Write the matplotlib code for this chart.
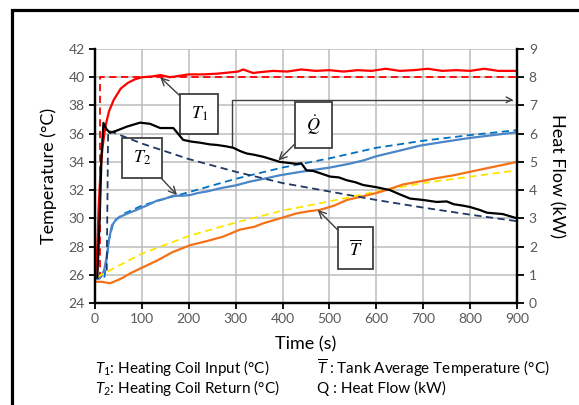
import matplotlib
matplotlib.use('Agg')
import matplotlib.pyplot as plt
from matplotlib.patches import Rectangle

plt.rcParams['font.family'] = ['Lato', 'DejaVu Sans']
plt.rcParams['mathtext.fontset'] = 'custom'
plt.rcParams['mathtext.it'] = 'Lato:italic'
plt.rcParams['mathtext.rm'] = 'Lato'

t_T1 = [0, 5, 8, 12, 16, 22, 30, 40, 55, 70, 85, 100, 120, 140, 160, 180, 200, 230, 260, 290,
        305, 316, 337, 350, 380, 410, 440, 470, 500, 530, 560, 590, 620, 650, 680, 710, 740,
        770, 800, 830, 860, 900]
T1 = [25.7, 28.0, 31.0, 33.5, 35.0, 36.5, 37.6, 38.4, 39.2, 39.6, 39.85, 40.0, 40.05, 40.15,
      40.0, 40.1, 40.2, 40.2, 40.25, 40.35, 40.4, 40.55, 40.3, 40.35, 40.45, 40.4, 40.55, 40.45,
      40.5, 40.4, 40.5, 40.45, 40.6, 40.45, 40.5, 40.6, 40.45, 40.5, 40.45, 40.6, 40.45, 40.45]

t_T1_model = [10, 10, 900]
T1_model = [25.7, 40.0, 40.0]

t_T2 = [0, 8, 14, 20, 25, 30, 36, 45, 53, 70, 89, 110, 132, 150, 166, 185, 203, 220, 238,
        270, 302, 330, 360, 394, 430, 460, 501, 540, 572, 600, 650, 693, 740, 800, 850, 900]
T2 = [25.7, 25.7, 25.9, 26.4, 27.3, 28.5, 29.5, 29.9, 30.1, 30.35, 30.6, 30.9, 31.25, 31.4,
      31.6, 31.6, 31.65, 31.8, 31.9, 32.15, 32.35, 32.6, 32.8, 33.05, 33.25, 33.4, 33.6, 33.85,
      34.1, 34.4, 34.8, 35.15, 35.4, 35.7, 35.9, 36.1]

t_T2_model = [20, 30, 40, 60, 100, 150, 200, 300, 400, 500, 600, 700, 800, 900]
T2_model = [25.8, 28.5, 29.8, 30.3, 30.9, 31.4, 31.85, 32.8, 33.6, 34.25, 35.0, 35.5, 35.9, 36.25]

t_Tavg = [0, 15, 32, 47, 60, 75, 100, 132, 165, 203, 240, 273, 309, 340, 359, 395, 430, 455,
          480, 510, 537, 570, 601, 630, 657, 690, 729, 765, 800, 850, 900]
Tavg = [25.5, 25.5, 25.4, 25.6, 25.8, 26.1, 26.5, 27.0, 27.6, 28.1, 28.4, 28.7, 29.2, 29.4,
        29.65, 30.0, 30.35, 30.5, 30.6, 30.9, 31.3, 31.55, 31.8, 32.1, 32.4, 32.6, 32.85, 33.05,
        33.3, 33.65, 34.0]

t_Tavg_model = [5, 100, 200, 300, 400, 500, 600, 700, 800, 900]
Tavg_model = [25.85, 27.5, 28.75, 29.7, 30.55, 31.2, 31.9, 32.5, 32.95, 33.4]

t_Q = [5, 10, 14, 18, 25, 32, 45, 68, 96, 117, 139, 167, 188, 205, 224, 245, 260, 280, 295,
       310, 323, 340, 359, 375, 394, 410, 430, 440, 451, 465, 480, 501, 520, 537, 555, 572, 601,
       629, 650, 672, 700, 729, 750, 765, 785, 800, 820, 836, 870, 900]
Q = [0.9, 3.0, 5.25, 6.38, 6.15, 6.03, 6.1, 6.25, 6.39, 6.35, 6.2, 6.2, 5.78, 5.72, 5.68, 5.62,
     5.6, 5.55, 5.5, 5.38, 5.3, 5.25, 5.18, 5.1, 5.0, 4.97, 4.93, 4.95, 4.7, 4.68, 4.6, 4.48,
     4.45, 4.35, 4.28, 4.18, 4.1, 4.0, 3.85, 3.7, 3.65, 3.58, 3.6, 3.5, 3.45, 3.4, 3.3, 3.2, 3.15,
     3.0]

t_Q_model = [25, 28, 38, 100, 200, 300, 400, 500, 600, 700, 800, 900]
Q_model = [1.15, 6.1, 6.05, 5.65, 5.1, 4.65, 4.25, 3.95, 3.65, 3.38, 3.13, 2.9]

fig = plt.figure(figsize=(5.79, 4.05), dpi=100)
ax = fig.add_axes([95 / 579, 1 - 303 / 405, 422 / 579, 254 / 405])
ax2 = ax.twinx()

ax.plot(t_T1_model, T1_model, color='#FF0000', lw=1.3, ls=(0, (4, 2.5)))
ax.plot(t_T1, T1, color='#FF0000', lw=1.6)
ax.plot(t_T2_model, T2_model, color='#0070C0', lw=1.3, ls=(0, (4, 2.5)))
ax.plot(t_T2, T2, color='#4A86C8', lw=1.6)
ax.plot(t_Tavg_model, Tavg_model, color='#FFE400', lw=1.3, ls=(0, (4, 2.5)))
ax.plot(t_Tavg, Tavg, color='#F47216', lw=1.6)
ax2.plot(t_Q_model, Q_model, color='#1F3864', lw=1.3, ls=(0, (4, 2.5)))
ax2.plot(t_Q, Q, color='black', lw=1.6)

ax.set_xlim(0, 900)
ax.set_ylim(24, 42)
ax2.set_ylim(0, 9)
ax.set_xticks(range(0, 901, 100))
ax.set_yticks(range(24, 43, 2))
ax2.set_yticks(range(0, 10))
ax.grid(True, color='#BDBDBD', lw=1.1)
ax.set_axisbelow(True)

for a in (ax, ax2):
    a.spines['top'].set_visible(False)
    for s in ('left', 'right', 'bottom'):
        a.spines[s].set_linewidth(1.6)
ax.tick_params(labelsize=10, colors='black', labelcolor='#595959', width=1.3, length=4)
ax2.tick_params(labelsize=10, colors='black', labelcolor='#595959', width=1.3, length=5)

ax.set_ylabel('Temperature (°C)', fontsize=13, labelpad=8)
ax2.set_ylabel('Heat Flow (kW)', fontsize=13, rotation=270, labelpad=20)
ax.set_xlabel('Time (s)', fontsize=13, labelpad=8)

box = dict(boxstyle='square,pad=0.6', fc='white', ec='#404040', lw=1.3)
arr = dict(arrowstyle='->', color='#404040', lw=1.0, shrinkA=0, shrinkB=0)
ax.annotate('$T_1$', xy=(139, 40.0), xytext=(222, 37.4), fontsize=13, math_fontfamily='stix',
            ha='center', va='center', bbox=box, arrowprops=arr)
ax.annotate('$T_2$', xy=(175, 31.65), xytext=(100, 34.3), fontsize=13, math_fontfamily='stix',
            ha='center', va='center', bbox=box, arrowprops=arr)
ax.annotate(r'$\dot{Q}$', xy=(391, 34.1), xytext=(466, 36.6), fontsize=13, math_fontfamily='stix',
            ha='center', va='center', bbox=box, arrowprops=arr)
ax.annotate(r'$\overline{T}$', xy=(475, 30.6), xytext=(556, 27.9), fontsize=13,
            math_fontfamily='stix', ha='center', va='center', bbox=box, arrowprops=arr)
ax.annotate('', xy=(892, 38.4), xytext=(292, 35.1),
            arrowprops=dict(arrowstyle='->', color='#404040', lw=1.0, shrinkA=0, shrinkB=0,
                            connectionstyle='angle,angleA=90,angleB=0,rad=0'))

fig.text(95 / 579, 1 - 368 / 405, '$T_1$: Heating Coil Input (°C)', fontsize=11, va='center')
fig.text(95 / 579, 1 - 388 / 405, '$T_2$: Heating Coil Return (°C)', fontsize=11, va='center')
fig.text(317 / 579, 1 - 368 / 405, r'$\overline{T}$ : Tank Average Temperature (°C)', fontsize=11,
         va='center')
fig.text(317 / 579, 1 - 388 / 405, 'Q : Heat Flow (kW)', fontsize=11, va='center')

fig.add_artist(Rectangle((12 / 579, -0.2), 1.2, 1.2 - 10 / 405, fill=False, lw=2.3,
                         ec='black', transform=fig.transFigure))

fig.savefig('out.png', dpi=100)
